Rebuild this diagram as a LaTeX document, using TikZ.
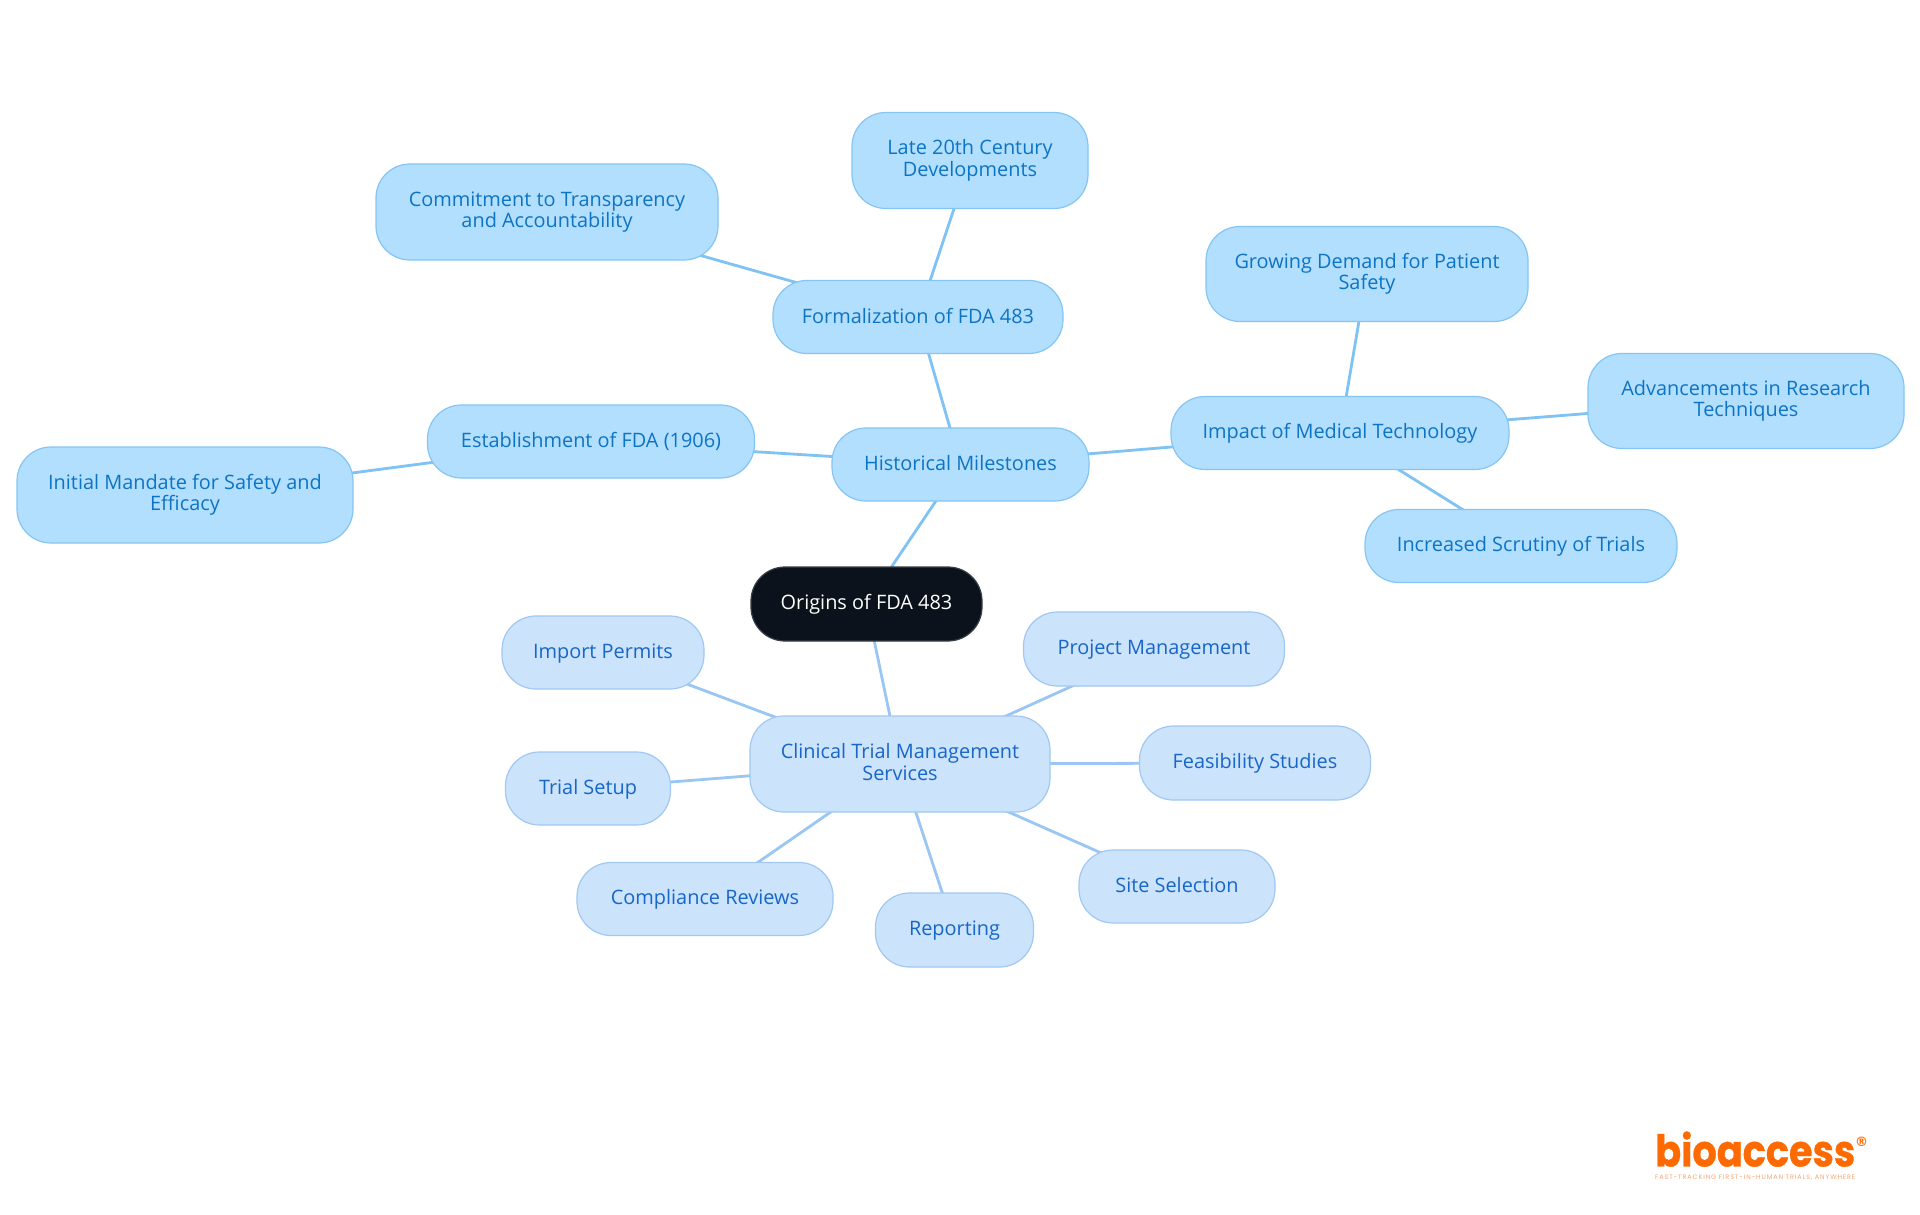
\documentclass[tikz,border=0pt]{standalone}
\usepackage{fontspec}
\usepackage{graphicx}
\setmainfont{Open Sans}
\newfontfamily\logofont[BoldFeatures={FakeBold=0.8}]{Poppins}
\newfontfamily\tagfont[LetterSpace=14]{Poppins}
\newfontfamily\regfont{DejaVu Sans}
\definecolor{lvlfill}{HTML}{B3DFFF}
\definecolor{lvldraw}{HTML}{84C5F4}
\definecolor{lvltext}{HTML}{0D74C4}
\definecolor{lvlline}{HTML}{7EC3F4}
\definecolor{svcfill}{HTML}{CCE3FC}
\definecolor{svcdraw}{HTML}{A0C8F2}
\definecolor{svctext}{HTML}{1766C8}
\definecolor{svcline}{HTML}{99C6F2}
\definecolor{rootfill}{HTML}{0B121B}
\definecolor{rootdraw}{HTML}{3A4048}
\definecolor{logoorange}{HTML}{FF6A00}
\definecolor{logotag}{HTML}{F9A46F}
\tikzset{
  box/.style={rectangle,rounded corners=34pt,align=center,inner sep=0pt,line width=1.2pt,
    font=\fontsize{19.9}{21.5}\selectfont,
    execute at begin node={\rule{0pt}{16pt}},
    execute at end node={\rule[-4pt]{0pt}{4pt}}},
  blue/.style={box,fill=lvlfill,draw=lvldraw,text=lvltext},
  pale/.style={box,fill=svcfill,draw=svcdraw,text=svctext},
  rootbox/.style={box,fill=rootfill,draw=rootdraw,text=white},
  bluelink/.style={draw=lvlline,line width=2.8pt},
  palelink/.style={draw=svcline,line width=2.8pt}
}
\begin{document}
\begin{tikzpicture}[x=1pt,y=-1pt]
\useasboundingbox (0,0) rectangle (1920,1215);
\fill[white] (0,0) rectangle (1920,1215);
\coordinate (rootc) at (866.5,604);
\coordinate (histc) at (960.5,464.5);
\coordinate (clinc) at (900,764);
\coordinate (formc) at (918,317);
\coordinate (latec) at (970,160.5);
\coordinate (commc) at (547,212);
\coordinate (estc) at (591,441.5);
\coordinate (initc) at (185,495);
\coordinate (impc) at (1340,433);
\coordinate (growc) at (1367,274);
\coordinate (advc) at (1746,401);
\coordinate (incc) at (1521,546);
\coordinate (impoc) at (603,652.5);
\coordinate (projc) at (1154,649);
\coordinate (feasc) at (1255,763);
\coordinate (tsetc) at (588,788.5);
\coordinate (compc) at (705,899);
\coordinate (repc) at (954.5,930);
\coordinate (sitec) at (1177,886.5);
\draw[bluelink] (rootc) -- (histc);
\draw[bluelink] (histc) -- (formc);
\draw[bluelink] (formc) -- (latec);
\draw[bluelink] (formc) -- (commc);
\draw[bluelink] (histc) -- (estc);
\draw[bluelink] (estc) -- (initc);
\draw[bluelink] (histc) -- (impc);
\draw[bluelink] (impc) -- (growc);
\draw[bluelink] (impc) -- (advc);
\draw[bluelink] (impc) -- (incc);
\draw[palelink] (rootc) -- (clinc);
\draw[palelink] (clinc) -- (impoc);
\draw[palelink] (clinc) -- (projc);
\draw[palelink] (clinc) -- (feasc);
\draw[palelink] (clinc) -- (tsetc);
\draw[palelink] (clinc) -- (compc);
\draw[palelink] (clinc) -- (repc);
\draw[palelink] (clinc) -- (sitec);
\node[rootbox,minimum width=231pt,minimum height=74pt] (root) at (rootc) {Origins of FDA 483};
\node[blue,minimum width=257pt,minimum height=73pt] (hist) at (histc) {Historical Milestones};
\node[pale,minimum width=300pt,minimum height=96pt] (clin) at (clinc) {Clinical Trial Management\\Services};
\node[blue,minimum width=290pt,minimum height=73pt] (form) at (formc) {Formalization of FDA 483};
\node[blue,minimum width=236pt,minimum height=96pt] (late) at (latec) {Late 20th Century\\Developments};
\node[blue,minimum width=342pt,minimum height=96pt] (comm) at (commc) {Commitment to Transparency\\and Accountability};
\node[blue,minimum width=327pt,minimum height=73pt] (est) at (estc) {Establishment of FDA (1906)};
\node[blue,minimum width=336pt,minimum height=96pt] (init) at (initc) {Initial Mandate for Safety and\\Efficacy};
\node[blue,minimum width=338pt,minimum height=73pt] (imp) at (impc) {Impact of Medical Technology};
\node[blue,minimum width=322pt,minimum height=95pt] (grow) at (growc) {Growing Demand for Patient\\Safety};
\node[blue,minimum width=316pt,minimum height=95pt] (adv) at (advc) {Advancements in Research\\Techniques};
\node[blue,minimum width=312pt,minimum height=73pt] (inc) at (incc) {Increased Scrutiny of Trials};
\node[pale,minimum width=202pt,minimum height=73pt] (impo) at (impoc) {Import Permits};
\node[pale,minimum width=261pt,minimum height=74pt] (proj) at (projc) {Project Management};
\node[pale,minimum width=231pt,minimum height=74pt] (feas) at (feasc) {Feasibility Studies};
\node[pale,minimum width=165pt,minimum height=73pt] (tset) at (tsetc) {Trial Setup};
\node[pale,minimum width=256pt,minimum height=73pt] (comp) at (compc) {Compliance Reviews};
\node[pale,minimum width=158pt,minimum height=74pt] (rep) at (repc) {Reporting};
\node[pale,minimum width=196pt,minimum height=73pt] (site) at (sitec) {Site Selection};
\node[inner sep=0pt,text=logoorange,anchor=south west] (logo) at (1655,1167)
  {\resizebox{200pt}{35pt}{\logofont\bfseries bioaccess}};
\node[inner sep=0pt,text=logoorange,anchor=center] (reg) at (1861.5,1142)
  {\fontsize{13}{13}\regfont\bfseries ®};
\node[inner sep=0pt,text=logotag,anchor=west] (tag) at (1655,1178)
  {\resizebox{200pt}{!}{\tagfont FAST-TRACKING FIRST-IN-HUMAN TRIALS, ANYWHERE}};
\end{tikzpicture}
\end{document}
